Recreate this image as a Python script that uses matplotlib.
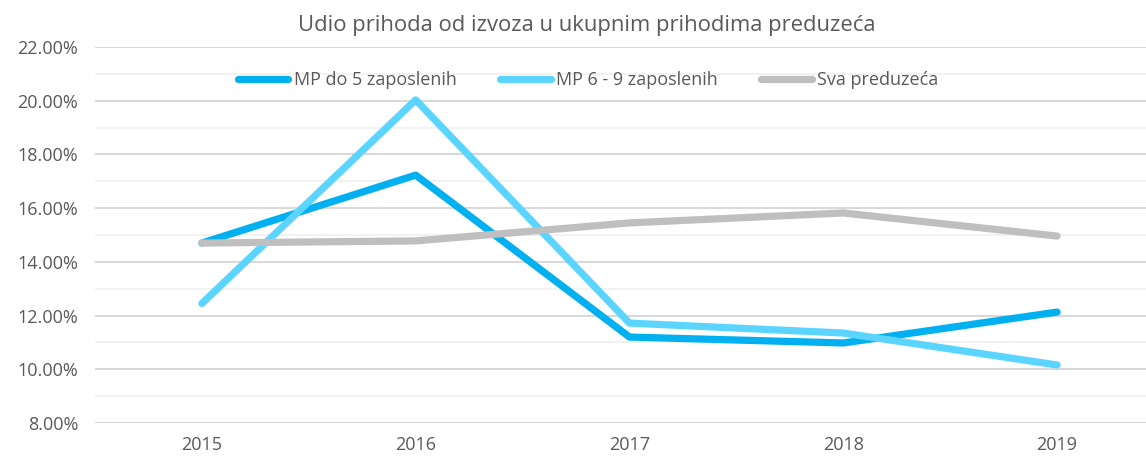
import numpy as np
import matplotlib.pyplot as plt

years = ['2015', '2016', '2017', '2018', '2019']
mp_do5 = [14.70, 17.23, 11.20, 10.98, 12.13]
mp_6_9 = [12.45, 20.03, 11.72, 11.35, 10.16]
sva = [14.70, 14.78, 15.45, 15.82, 14.96]

plt.rcParams['font.family'] = ['Open Sans', 'DejaVu Sans']

fig = plt.figure(figsize=(11.46, 4.58), dpi=100)
ax = fig.add_axes([95 / 1146, 1 - 423 / 458, (1164 - 95) / 1146, (423 - 47) / 458])

x = np.arange(len(years))
ax.plot(x, mp_do5, color='#00B0F0', lw=5.2, label='MP do 5 zaposlenih', solid_capstyle='round')
ax.plot(x, mp_6_9, color='#5BD5FF', lw=5.2, label='MP 6 - 9 zaposlenih', solid_capstyle='round')
ax.plot(x, sva, color='#BFBFBF', lw=5.2, label='Sva preduzeća', solid_capstyle='round')

ax.set_xlim(-0.5, 4.5)
ax.set_ylim(8, 22)
ax.set_xticks(x)
ax.set_xticklabels(years)
ax.set_yticks(np.arange(8, 23, 2))
ax.set_yticklabels([f'{v:.2f}%' for v in np.arange(8, 23, 2)])
ax.set_yticks(np.arange(9, 22, 2), minor=True)
ax.grid(axis='y', which='major', color='#D9D9D9', lw=1.5)
ax.grid(axis='y', which='minor', color='#F2F2F2', lw=1.5)
ax.set_axisbelow(True)
for s in ax.spines.values():
    s.set_visible(False)
ax.tick_params(which='both', length=0, labelsize=13, colors='#595959')
ax.tick_params(axis='x', pad=9)
ax.tick_params(axis='y', pad=12)

fig.text(587 / 1146, 1 - 25 / 458, 'Udio prihoda od izvoza u ukupnim prihodima preduzeća',
         ha='center', va='center', fontsize=15.8, color='#595959')

ax.legend(loc='center', bbox_to_anchor=(588 / 1146, 1 - 80 / 458), bbox_transform=fig.transFigure,
          ncol=3, frameon=False, fontsize=13, labelcolor='#595959', handlelength=2.8,
          handletextpad=0.3, columnspacing=2.4)

fig.savefig('out.png', dpi=100)
